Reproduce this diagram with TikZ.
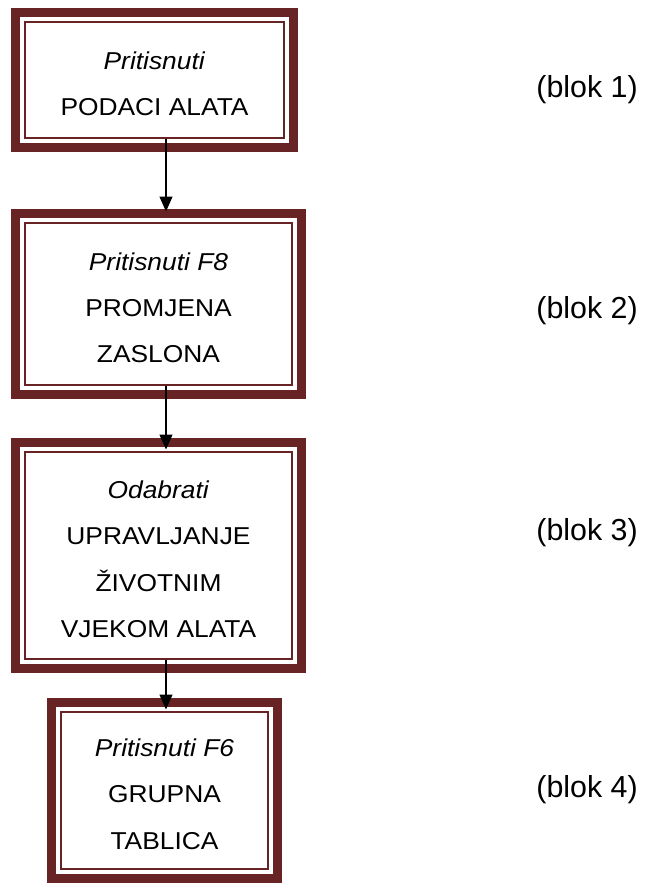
\documentclass[tikz,border=0pt]{standalone}
\usepackage{fontspec}
\setmainfont{Liberation Sans}
\newfontfamily\boxfont{Liberation Sans}[FakeStretch=1.08]
\usetikzlibrary{arrows.meta}
\definecolor{maroon}{RGB}{104,36,36}
\tikzset{
  blockbox/.style={draw=maroon, line width=9bp, outer sep=0pt, inner sep=0pt,
    align=center, font=\boxfont\fontsize{24.5}{46.5}\selectfont},
  innerline/.style={draw=maroon, line width=2.7bp},
  flowarrow/.style={draw=black, line width=1.3bp, -{Triangle[width=13bp,length=15bp]}},
  bloklabel/.style={anchor=base east, inner sep=0pt, font=\fontsize{30.5}{36}\selectfont}
}
\newcommand{\topstrut}{\rule{0pt}{25bp}}
\begin{document}
\begin{tikzpicture}[x=1bp,y=-1bp]
\useasboundingbox (0,0) rectangle (646,884);
\node[blockbox, minimum width=278bp, minimum height=135bp] (b1) at (154.5,80) {\topstrut\textit{Pritisnuti}\\PODACI ALATA};
\node[blockbox, minimum width=286bp, minimum height=181bp] (b2) at (158.5,304) {\topstrut\textit{Pritisnuti F8}\\PROMJENA\\ZASLONA};
\node[blockbox, minimum width=286bp, minimum height=226bp] (b3) at (158.5,555.5) {\topstrut\textit{Odabrati}\\UPRAVLJANJE\\ŽIVOTNIM\\VJEKOM ALATA};
\node[blockbox, minimum width=226bp, minimum height=176bp] (b4) at (164.5,790.5) {\topstrut\textit{Pritisnuti F6}\\GRUPNA\\TABLICA};
\foreach \b in {b1,b2,b3,b4}{
  \draw[innerline] ([shift={(9.4,9.4)}]\b.north west) rectangle ([shift={(-9.4,-9.4)}]\b.south east);
}
\coordinate (axis) at (166,0);
\draw[flowarrow, shorten <=-9bp, shorten >=2bp] (b1.south -| axis) -- (b2.north -| axis);
\draw[flowarrow, shorten <=-9bp, shorten >=-7bp] (b2.south -| axis) -- (b3.north -| axis);
\draw[flowarrow, shorten <=-9bp, shorten >=-7bp] (b3.south -| axis) -- (b4.north -| axis);
\node[bloklabel] (l1) at (638,97) {(blok 1)};
\node[bloklabel] (l2) at (638,318) {(blok 2)};
\node[bloklabel] (l3) at (638,540) {(blok 3)};
\node[bloklabel] (l4) at (638,797) {(blok 4)};
\end{tikzpicture}
\end{document}
